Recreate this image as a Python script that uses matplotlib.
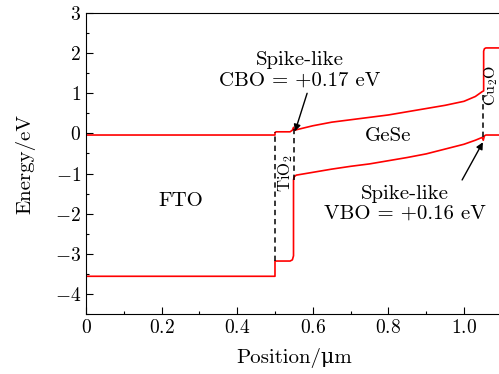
import matplotlib
matplotlib.use('Agg')
import matplotlib.pyplot as plt
from matplotlib.ticker import MultipleLocator

plt.rcParams['font.family'] = ['cmr10', 'DejaVu Serif']
plt.rcParams['mathtext.fontset'] = 'cm'
plt.rcParams['axes.unicode_minus'] = True
plt.rcParams['font.size'] = 15

# conduction band edge: FTO | TiO2 | GeSe | Cu2O  (position in um, energy in eV)
cb_x = [0.0, 0.5, 0.5, 0.503, 0.54, 0.546, 0.549, 0.552, 0.556,
        0.6, 0.65, 0.7, 0.75, 0.8, 0.85, 0.9, 0.95, 1.0, 1.03, 1.048,
        1.052, 1.052, 1.054, 1.058, 1.1]
cb_e = [-0.04, -0.04, 0.02, 0.04, 0.04, 0.08, 0.15, 0.08, 0.09,
        0.19, 0.28, 0.34, 0.40, 0.46, 0.54, 0.62, 0.70, 0.80, 0.92, 1.04,
        1.06, 2.05, 2.11, 2.13, 2.13]

# valence band edge
vb_x = [0.0, 0.5, 0.5, 0.54, 0.546, 0.549, 0.549, 0.551, 0.556,
        0.6, 0.65, 0.7, 0.75, 0.8, 0.85, 0.9, 0.95, 1.0, 1.03, 1.048,
        1.051, 1.054, 1.058, 1.1]
vb_e = [-3.56, -3.56, -3.18, -3.18, -3.15, -3.05, -1.15, -1.08, -1.04,
        -0.97, -0.89, -0.82, -0.76, -0.68, -0.60, -0.51, -0.39, -0.27, -0.17, -0.10,
        -0.17, -0.06, -0.04, -0.04]

# interfaces drawn as dashed lines: (x, top, bottom)
iface_x = [0.5, 0.549, 1.051]
iface_top = [0.04, 0.15, 1.04]
iface_bot = [-3.18, -1.15, -0.10]

xticks = [0, 0.2, 0.4, 0.6, 0.8, 1.0]
xtick_labels = ['$0$', '$0.2$', '$0.4$', '$0.6$', '$0.8$', '$1.0$']
yticks = [-4, -3, -2, -1, 0, 1, 2, 3]
ytick_labels = ['$-4$', '$-3$', '$-2$', '$-1$', '$0$', '$1$', '$2$', '$3$']

fig = plt.figure(figsize=(4.99, 3.74), dpi=100)
ax = fig.add_axes([0.1723, 0.1604, 0.8333, 0.8048])

ax.plot(cb_x, cb_e, color='red', lw=1.2)
ax.plot(vb_x, vb_e, color='red', lw=1.2)
for x, top, bot in zip(iface_x, iface_top, iface_bot):
    ax.plot([x, x], [bot, top], color='black', lw=1.1, ls=(0, (3.5, 2.5)))

ax.text(0.252, -1.68, 'FTO', ha='center', va='center')
ax.text(0.80, -0.07, 'GeSe', ha='center', va='center')
ax.text(0.528, -0.98, 'TiO$_2$', rotation=90, ha='center', va='center', fontsize=12)
ax.text(1.073, 1.2, 'Cu$_2$O', rotation=90, ha='center', va='center', fontsize=11.5)

ax.text(0.566, 1.57, 'Spike-like\nCBO = +0.17 eV', ha='center', va='center',
        linespacing=1.15)
ax.annotate('', xy=(0.553, 0.05), xytext=(0.585, 1.0),
            arrowprops=dict(arrowstyle='-|>', color='black', lw=1.0,
                            mutation_scale=10, shrinkA=0, shrinkB=0))
ax.text(0.844, -1.75, 'Spike-like\nVBO = +0.16 eV', ha='center', va='center',
        linespacing=1.15)
ax.annotate('', xy=(1.05, -0.22), xytext=(0.995, -1.16),
            arrowprops=dict(arrowstyle='-|>', color='black', lw=1.0,
                            mutation_scale=10, shrinkA=0, shrinkB=0))

ax.set_xlim(0, 1.1)
ax.set_ylim(-4.5, 3)
ax.set_xticks(xticks)
ax.set_xticklabels(xtick_labels)
ax.set_yticks(yticks)
ax.set_yticklabels(ytick_labels)
ax.xaxis.set_minor_locator(MultipleLocator(0.1))
ax.yaxis.set_minor_locator(MultipleLocator(0.5))
ax.tick_params(which='both', direction='in', top=False, right=False)
ax.tick_params(which='major', length=5, width=0.8, labelsize=14)
ax.tick_params(which='minor', length=2.5, width=0.8)
ax.set_xlabel('Position/μm', labelpad=8)
ax.set_ylabel('Energy/eV', labelpad=14)

fig.savefig('out.png', dpi=100)
